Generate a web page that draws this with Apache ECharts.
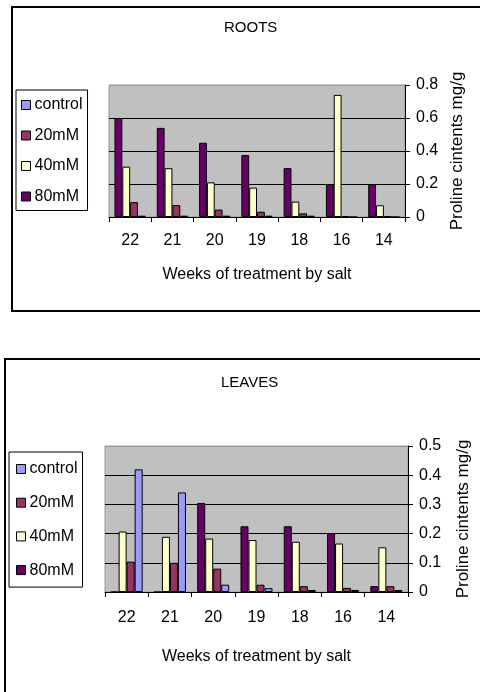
<!DOCTYPE html>
<html>
<head>
<meta charset="utf-8">
<script src="https://cdn.jsdelivr.net/npm/echarts@6/dist/echarts.min.js"></script>
<style>
html,body{margin:0;padding:0;background:#fff;}
#c{width:480px;height:692px;}
</style>
</head>
<body>
<div id="c"></div>
<script>
var categories = ['22', '21', '20', '19', '18', '16', '14'];
var seriesNames = ['control', '20mM', '40mM', '80mM'];

var roots80 = [0.60, 0.54, 0.45, 0.375, 0.296, 0.20, 0.20];
var roots40 = [0.305, 0.296, 0.21, 0.178, 0.093, 0.74, 0.071];
var roots20 = [0.09, 0.072, 0.045, 0.032, 0.022, 0.005, 0.005];
var rootsCtrl = [0.008, 0.008, 0.008, 0.008, 0.008, 0, 0];

var leaves80 = [0, 0, 0.305, 0.225, 0.225, 0.202, 0.02];
var leaves40 = [0.207, 0.189, 0.183, 0.178, 0.172, 0.166, 0.153];
var leaves20 = [0.104, 0.1, 0.08, 0.025, 0.02, 0.014, 0.02];
var leavesCtrl = [0.42, 0.341, 0.025, 0.013, 0.007, 0.007, 0.007];

var rootsTicks = [0, 0.2, 0.4, 0.6, 0.8];
var leavesTicks = [0, 0.1, 0.2, 0.3, 0.4, 0.5];

var colors = {'control': '#9999FF', '20mM': '#993366', '40mM': '#FFFFCC', '80mM': '#660066'};
var FONT = 'Liberation Sans, Arial, sans-serif';

function barSeries(name, data, idx) {
  return {
    type: 'bar', name: name, data: data,
    xAxisIndex: idx, yAxisIndex: idx,
    barGap: '0%', barCategoryGap: '26%',
    itemStyle: {color: colors[name], borderColor: '#000', borderWidth: 1},
    emphasis: {disabled: true},
    animation: false
  };
}

function xAx(idx, margin, gap) {
  return {
    type: 'category', gridIndex: idx, data: categories,
    axisLine: {lineStyle: {color: '#000', width: 1}},
    axisTick: {show: true, length: 5, lineStyle: {color: '#000'}},
    axisLabel: {color: '#000', fontSize: 16, fontFamily: FONT, margin: margin},
    name: 'Weeks of treatment by salt', nameLocation: 'middle', nameGap: gap,
    nameTextStyle: {color: '#000', fontSize: 16, fontFamily: FONT}
  };
}

function yAx(idx, ticks, gap, splitColors) {
  return {
    type: 'value', gridIndex: idx, position: 'right',
    min: ticks[0], max: ticks[ticks.length - 1], interval: ticks[1] - ticks[0],
    axisLine: {show: true, lineStyle: {color: '#000', width: 1}},
    axisTick: {show: true, length: 5, lineStyle: {color: '#000'}},
    axisLabel: {color: '#000', fontSize: 16, fontFamily: FONT, margin: 11,
      formatter: function (v) { return String(Math.round(v * 10) / 10); }},
    splitLine: {show: true, lineStyle: {color: splitColors, width: 1}},
    name: 'Proline cintents mg/g', nameLocation: 'middle', nameGap: gap, nameRotate: 90,
    nameTextStyle: {color: '#000', fontSize: 17, fontFamily: FONT}
  };
}

function legend(left, top, padding, gap) {
  return {
    orient: 'vertical', left: left, top: top, data: seriesNames,
    padding: padding, itemGap: gap, itemWidth: 9, itemHeight: 9,
    icon: 'rect', borderColor: '#000', borderWidth: 1, backgroundColor: '#fff',
    selectedMode: false,
    itemStyle: {borderColor: '#000', borderWidth: 1},
    textStyle: {color: '#000', fontSize: 16, fontFamily: FONT, lineHeight: 16, padding: [0, 0, 0, -1]}
  };
}

var chart = echarts.init(document.getElementById('c'), null, {renderer: 'canvas'});
chart.setOption({
  animation: false,
  backgroundColor: '#fff',
  title: [
    {text: 'ROOTS', left: 224, top: 20, padding: 0,
      textStyle: {color: '#000', fontSize: 15, fontWeight: 'normal', fontFamily: FONT}},
    {text: 'LEAVES', left: 221, top: 375, padding: 0,
      textStyle: {color: '#000', fontSize: 15, fontWeight: 'normal', fontFamily: FONT}}
  ],
  legend: [
    legend(16, 90, [7, 5, 6, 5], 14.5),
    legend(9, 452, [9, 5, 9, 7], 17.7)
  ],
  grid: [
    {left: 109, right: 75, top: 85, height: 132, show: true, backgroundColor: '#C0C0C0', borderColor: '#999', borderWidth: 1},
    {left: 105, right: 71, top: 446, height: 146, show: true, backgroundColor: '#C0C0C0', borderColor: '#999', borderWidth: 1}
  ],
  xAxis: [xAx(0, 16, 50), xAx(1, 18, 57)],
  yAxis: [
    yAx(0, rootsTicks, 40, ['#000', '#000', '#000', '#000', '#999']),
    yAx(1, leavesTicks, 47, ['#000', '#000', '#000', '#000', '#000', '#999'])
  ],
  series: [
    barSeries('80mM', roots80, 0),
    barSeries('40mM', roots40, 0),
    barSeries('20mM', roots20, 0),
    barSeries('control', rootsCtrl, 0),
    barSeries('80mM', leaves80, 1),
    barSeries('40mM', leaves40, 1),
    barSeries('20mM', leaves20, 1),
    barSeries('control', leavesCtrl, 1)
  ],
  graphic: [
    {type: 'rect', silent: true, z: -1, shape: {x: 12, y: 7, width: 480, height: 304},
      style: {fill: null, stroke: '#000', lineWidth: 2}},
    {type: 'rect', silent: true, z: -1, shape: {x: 5, y: 359, width: 490, height: 400},
      style: {fill: null, stroke: '#000', lineWidth: 2}}
  ]
});
</script>
</body>
</html>
